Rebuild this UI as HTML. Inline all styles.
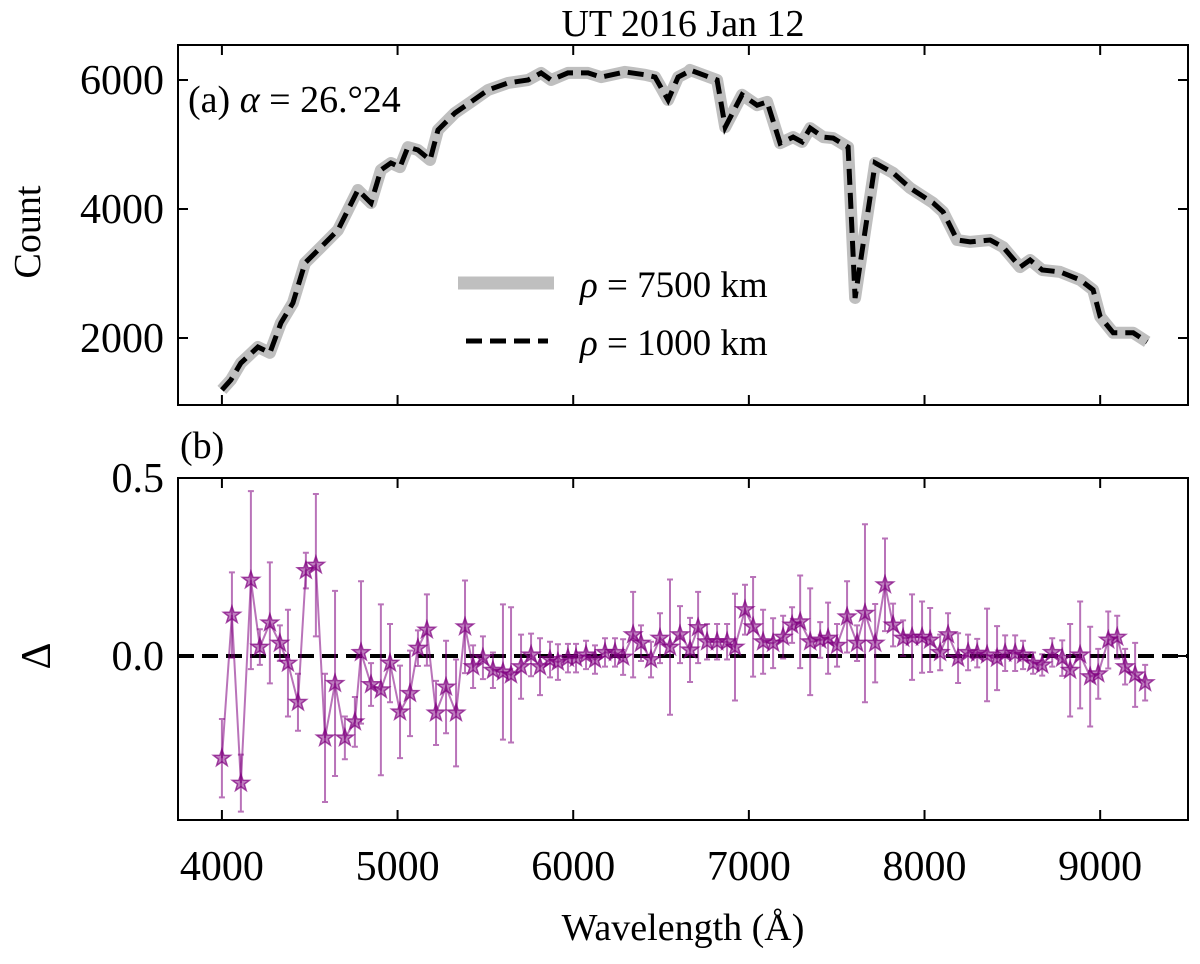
<!DOCTYPE html>
<html><head><meta charset="utf-8"><style>
body{margin:0;background:#fff}
svg text{font-family:"Liberation Serif","DejaVu Serif",serif;fill:#000}
</style></head><body>
<svg id="c" width="1200" height="959" viewBox="0 0 1200 959"></svg>
<script>
const countWl=[4000,4051,4108,4205,4273,4336,4404,4473,4564,4661,4774,4849,4905,4962,5014,5059,5116,5185,5230,5327,5418,5515,5629,5743,5817,5874,5970,6084,6158,6295,6409,6466,6540,6597,6654,6665,6819,6865,6961,7047,7104,7178,7252,7303,7349,7423,7480,7565,7605,7719,7821,7918,8049,8106,8186,8260,8374,8448,8544,8601,8670,8772,8886,8960,9000,9074,9188,9268];
const counts=[1195,1350,1613,1860,1770,2233,2543,3163,3410,3675,4295,4093,4605,4713,4650,4960,4915,4760,5225,5490,5660,5845,5955,6000,6110,6000,6110,6110,6045,6125,6080,6045,5690,6045,6125,6155,6000,5270,5770,5610,5660,5020,5115,5040,5255,5115,5100,4960,2620,4715,4560,4325,4095,3955,3520,3490,3520,3410,3100,3210,3055,3025,2900,2745,2330,2080,2080,1940];
const resWl=[4000,4057,4108,4165,4216,4273,4330,4376,4433,4478,4535,4587,4644,4700,4757,4792,4849,4905,4957,5014,5071,5116,5167,5219,5276,5333,5384,5430,5486,5543,5600,5646,5703,5760,5811,5868,5913,5970,6016,6073,6124,6181,6238,6284,6341,6386,6443,6494,6551,6608,6665,6711,6762,6819,6876,6921,6978,7024,7081,7138,7195,7246,7292,7349,7406,7451,7502,7559,7616,7661,7719,7775,7821,7878,7929,7986,8032,8089,8134,8191,8248,8300,8356,8413,8459,8516,8561,8618,8670,8727,8784,8829,8886,8943,8989,9046,9097,9142,9199,9256];
const resVal=[-0.287,0.115,-0.357,0.213,0.025,0.093,0.036,-0.02,-0.13,0.24,0.255,-0.23,-0.077,-0.23,-0.185,0.01,-0.08,-0.095,-0.02,-0.157,-0.105,0.022,0.073,-0.16,-0.087,-0.16,0.082,-0.03,-0.005,-0.04,-0.045,-0.053,-0.03,0.003,-0.03,-0.01,-0.017,-0.006,-0.006,0.003,-0.01,0.01,0.01,-0.003,0.06,0.036,-0.01,0.05,0.025,0.06,0.017,0.08,0.04,0.04,0.04,0.025,0.13,0.082,0.04,0.036,0.053,0.087,0.096,0.04,0.045,0.05,0.03,0.11,0.036,0.12,0.036,0.2,0.087,0.05,0.053,0.053,0.045,0.01,0.06,-0.006,0.01,0.008,0.003,-0.006,0.008,0.008,0.003,-0.02,-0.025,0.01,-0.006,-0.04,0.003,-0.058,-0.05,0.045,0.053,-0.03,-0.053,-0.075];
const resErr=[0.11,0.12,0.08,0.25,0.05,0.17,0.05,0.15,0.08,0.05,0.2,0.18,0.26,0.06,0.07,0.2,0.06,0.24,0.11,0.13,0.12,0.05,0.1,0.09,0.13,0.15,0.13,0.06,0.06,0.05,0.19,0.19,0.09,0.06,0.08,0.05,0.05,0.04,0.04,0.04,0.04,0.04,0.04,0.05,0.12,0.05,0.05,0.07,0.19,0.08,0.09,0.1,0.05,0.05,0.05,0.15,0.07,0.14,0.09,0.07,0.06,0.05,0.13,0.15,0.05,0.1,0.06,0.1,0.05,0.25,0.11,0.13,0.06,0.05,0.12,0.1,0.09,0.05,0.06,0.07,0.05,0.04,0.13,0.09,0.05,0.05,0.04,0.03,0.03,0.04,0.05,0.13,0.15,0.14,0.07,0.08,0.06,0.05,0.09,0.05];
const xTicks=[4000,5000,6000,7000,8000,9000];
const yTicksTop=[2000,4000,6000];
const yTicksBot=[0.0,0.5];

const NS='http://www.w3.org/2000/svg';
const svg=document.getElementById('c');
function mk(tag,attrs,parent){const e=document.createElementNS(NS,tag);for(const k in attrs)e.setAttribute(k,attrs[k]);(parent||svg).appendChild(e);return e;}
const L=178,R=1188;
const X=w=>L+(w-3750)*(R-L)/(9500-3750);
const T1=45,B1=405,T2=478,B2=820;
const Y1=v=>80+(6000-v)*129/2000;
const Y2=v=>656-v*356;

let t=mk('text',{x:683,y:36,'font-size':38,'text-anchor':'middle'});t.textContent='UT 2016 Jan 12';


let ptsTop=countWl.map((w,i)=>X(w).toFixed(1)+','+Y1(counts[i]).toFixed(1)).join(' ');
let g=mk('polyline',{points:ptsTop,fill:'none',stroke:'#bfbfbf','stroke-width':12,'stroke-linejoin':'round','stroke-linecap':'butt'});

let d=mk('polyline',{points:ptsTop,fill:'none',stroke:'#000','stroke-width':5,'stroke-dasharray':'16,8'});


let f1=mk('rect',{x:L,y:T1,width:R-L,height:B1-T1,fill:'none',stroke:'#000','stroke-width':2});

let f2=mk('rect',{x:L,y:T2,width:R-L,height:B2-T2,fill:'none',stroke:'#000','stroke-width':2});


xTicks.forEach(v=>{const x=X(v);
 [[T1,1],[B1,-1],[T2,1],[B2,-1]].forEach(([y,s])=>{let l=mk('line',{x1:x,x2:x,y1:y,y2:y+s*10,stroke:'#000','stroke-width':2});
 });
 let tl=mk('text',{x:x,y:880,'font-size':42,'text-anchor':'middle'});tl.textContent=v;
 
});
yTicksTop.forEach(v=>{const y=Y1(v);
 [[L,1],[R,-1]].forEach(([x,s])=>{let l=mk('line',{x1:x,x2:x+s*10,y1:y,y2:y,stroke:'#000','stroke-width':2});
 });
 let tl=mk('text',{x:164,y:y+14,'font-size':42,'text-anchor':'end'});tl.textContent=v;
 
});
yTicksBot.forEach(v=>{const y=Y2(v);
 [[L,1],[R,-1]].forEach(([x,s])=>{let l=mk('line',{x1:x,x2:x+s*10,y1:y,y2:y,stroke:'#000','stroke-width':2});
 });
 let tl=mk('text',{x:164,y:y+14,'font-size':42,'text-anchor':'end'});tl.textContent=v.toFixed(1);
 
});

let yl=mk('text',{x:0,y:0,'font-size':38,'text-anchor':'middle',transform:'translate(40,232) rotate(-90)'});yl.textContent='Count';

let yl2=mk('text',{x:0,y:0,'font-size':42,'text-anchor':'middle',transform:'translate(50,656) rotate(-90)'});yl2.textContent='Δ';

let xl=mk('text',{x:683,y:940,'font-size':38,'text-anchor':'middle'});xl.textContent='Wavelength (Å)';

let pa=mk('text',{x:188,y:112,'font-size':38});pa.innerHTML='(a) <tspan font-style="italic">α</tspan> = 26.°24';

let pb=mk('text',{x:180,y:458,'font-size':38});pb.textContent='(b)';


let lg=mk('line',{x1:458,x2:554,y1:283,y2:283,stroke:'#bfbfbf','stroke-width':13});

let lt=mk('text',{x:580,y:297,'font-size':37});lt.innerHTML='<tspan font-style="italic">ρ</tspan> = 7500 km';

let ld=mk('line',{x1:466,x2:548,y1:341,y2:341,stroke:'#000','stroke-width':5,'stroke-dasharray':'16,8'});

let lt2=mk('text',{x:580,y:355,'font-size':37});lt2.innerHTML='<tspan font-style="italic">ρ</tspan> = 1000 km';


let z=mk('line',{x1:L,x2:R,y1:Y2(0),y2:Y2(0),stroke:'#000','stroke-width':4,'stroke-dasharray':'16,8'});


const pc='rgba(128,0,128,0.55)';
resWl.forEach((w,i)=>{const x=X(w),y1=Y2(resVal[i]+resErr[i]),y2=Y2(resVal[i]-resErr[i]);
 let e=mk('path',{d:`M${x},${y1}V${y2}M${x-3},${y1}H${x+3}M${x-3},${y2}H${x+3}`,stroke:pc,'stroke-width':2,fill:'none'});
 
});
let rl=mk('polyline',{points:resWl.map((w,i)=>X(w).toFixed(1)+','+Y2(resVal[i]).toFixed(1)).join(' '),fill:'none',stroke:pc,'stroke-width':2});

function star(cx,cy,r){let p=[];for(let k=0;k<10;k++){const a=-Math.PI/2+k*Math.PI/5,rr=k%2?r*0.4:r;p.push((cx+rr*Math.cos(a)).toFixed(1)+','+(cy+rr*Math.sin(a)).toFixed(1));}return p.join(' ');}
resWl.forEach((w,i)=>{let s=mk('polygon',{points:star(X(w),Y2(resVal[i]),9),fill:'rgba(128,0,128,0.5)',stroke:'rgba(128,0,128,0.7)','stroke-width':1.5});
 
});
</script>
</body></html>
